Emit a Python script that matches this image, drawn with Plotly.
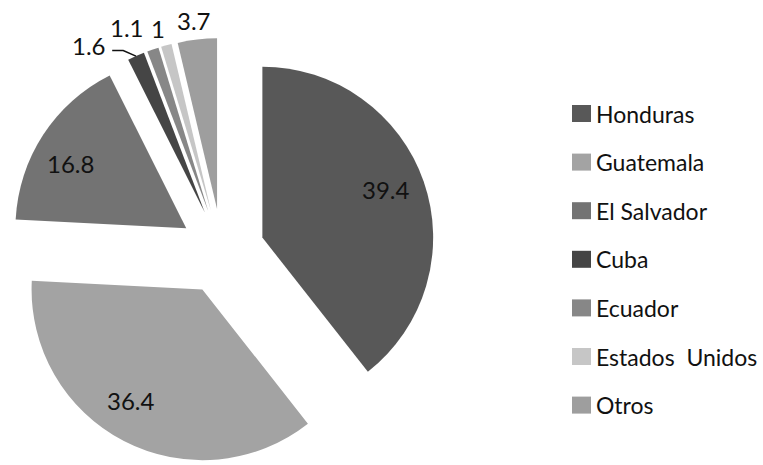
import math
import plotly.graph_objects as go

# Share of each country of origin (%)
countries = ["Honduras", "Guatemala", "El Salvador", "Cuba", "Ecuador",
             "Estados\u00a0\u00a0Unidos", "Otros"]
values = [39.4, 36.4, 16.8, 1.6, 1.1, 1.0, 3.7]
labels_txt = ["39.4", "36.4", "16.8", "1.6", "1.1", "1", "3.7"]

colors = ["#585858", "#a3a3a3", "#737373", "#454545", "#878787", "#c6c6c6", "#9e9e9e"]

# label placement: radius (fraction of pie radius, measured from slice apex)
# and angular nudge in degrees
label_radius = [0.775, 0.775, 0.775, 1.19, 1.175, 1.11, 1.11]
label_shift = [-2.4, 5.3, -3.9, -10.9, -5.0, -1.1, -0.4]

W, H = 763, 465
PULL = 0.25
TOP = 38            # free space above the pie box
CX = 222            # horizontal centre of the pie box (px)
FONT = "Lato"

box_h = H - TOP
R = (box_h / 2) / (1 + PULL)
CY = TOP + box_h / 2

fig = go.Figure()
fig.add_trace(go.Pie(
    labels=countries,
    values=values,
    sort=False,
    direction="clockwise",
    rotation=0,
    pull=[PULL] * len(values),
    marker=dict(colors=colors, line=dict(width=0)),
    textinfo="none",
    showlegend=False,
    domain=dict(x=[0, 2 * CX / W], y=[0, box_h / H]),
))


def unit(deg):
    a = math.radians(deg)
    return math.sin(a), -math.cos(a)


def to_paper(px, py):
    return px / W, 1 - py / H


annotations = []
shapes = []
total = sum(values)
start = 0.0
for i, v in enumerate(values):
    span = 360.0 * v / total
    mid = start + span / 2
    ux, uy = unit(mid)
    apex_x = CX + PULL * R * ux
    apex_y = CY + PULL * R * uy
    lx, ly = unit(mid + label_shift[i])
    tx = apex_x + label_radius[i] * R * lx
    ty = apex_y + label_radius[i] * R * ly
    px_, py_ = to_paper(tx, ty)
    annotations.append(dict(
        x=px_, y=py_, xref="paper", yref="paper", text=labels_txt[i],
        showarrow=False, xanchor="center", yanchor="middle",
        font=dict(family=FONT, size=24, color="#111111"),
    ))
    if labels_txt[i] == "1.6":
        # leader line from the slice's outer arc to its label
        ax_, ay_ = apex_x + R * ux, apex_y + R * uy
        ex, ey = tx + 34, ty + 5.3
        fx, fy = tx + 23, ty + 5.3
        p = [to_paper(ax_, ay_), to_paper(ex, ey), to_paper(fx, fy)]
        shapes.append(dict(
            type="path", xref="paper", yref="paper",
            path="M {} {} L {} {} L {} {}".format(p[0][0], p[0][1], p[1][0], p[1][1], p[2][0], p[2][1]),
            line=dict(color="#111111", width=1.5),
        ))
    start += span

# legend: colour keys with country names
LEG_X0, LEG_X1 = 572, 591
LEG_Y0, LEG_STEP, KEY_H = 113.5, 48.6, 17
for i, name in enumerate(countries):
    yc = LEG_Y0 + i * LEG_STEP
    x0, y0 = to_paper(LEG_X0, yc - KEY_H / 2)
    x1, y1 = to_paper(LEG_X1, yc + KEY_H / 2)
    shapes.append(dict(type="rect", xref="paper", yref="paper",
                       x0=x0, x1=x1, y0=y1, y1=y0,
                       fillcolor=colors[i], line=dict(width=0)))
    tx, ty = to_paper(LEG_X1 + 3, yc)
    annotations.append(dict(
        x=tx, y=ty, xref="paper", yref="paper", text=name,
        showarrow=False, xanchor="left", yanchor="middle",
        font=dict(family=FONT, size=23, color="#111111"),
    ))

fig.update_layout(
    width=W, height=H,
    margin=dict(l=0, r=0, t=0, b=0),
    paper_bgcolor="white",
    plot_bgcolor="white",
    annotations=annotations,
    shapes=shapes,
    showlegend=False,
)

fig.write_html("out.html")
